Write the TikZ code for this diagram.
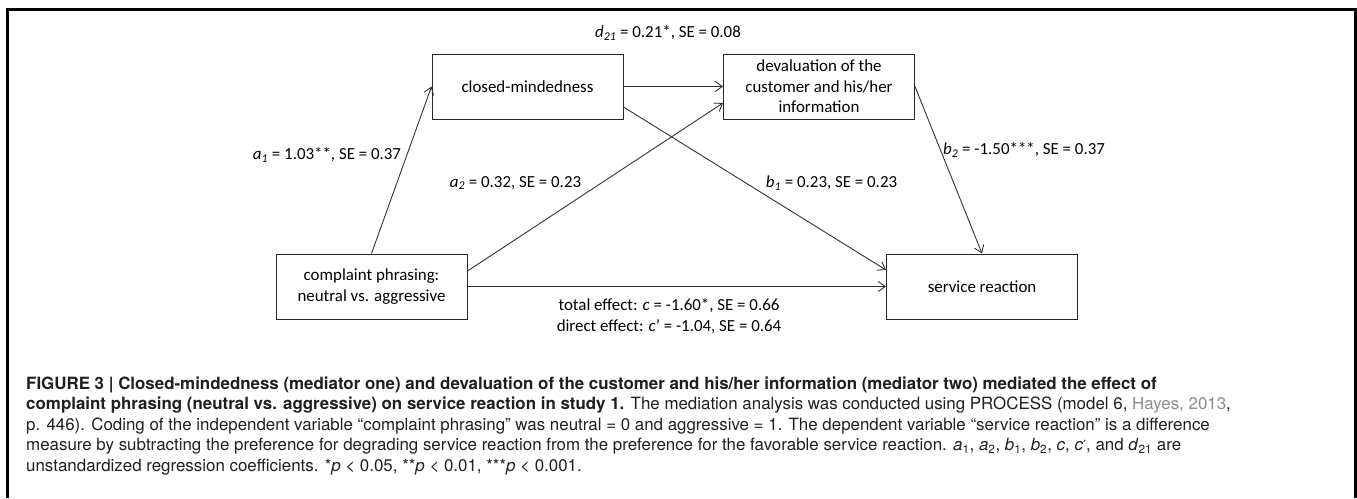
\documentclass[tikz,border=0pt]{standalone}
\usepackage{fontspec}
\setmainfont{Carlito}
\newfontfamily\capfont{TeX Gyre Heros}
\newfontfamily\primefont{DejaVu Sans}
\usetikzlibrary{arrows.meta,calc}
\definecolor{linkgray}{HTML}{8C8C8C}
\begin{document}
\begin{tikzpicture}[x=1pt,y=-1pt,
  box/.style={draw=black!85, line width=1pt, minimum width=191pt, minimum height=65pt,
    align=center, inner sep=0pt, font=\fontsize{16.9}{20.5}\selectfont},
  conn/.style={draw=black!80, line width=0.9pt, -{Straight Barb[length=7pt,width=10pt]}},
  lab/.style={font=\fontsize{16.9}{20.5}\selectfont, inner sep=0pt, align=center},
  captext/.style={anchor=base west, inner sep=0pt, font=\capfont\fontsize{16.9}{20}\selectfont, text=black!88},
]
\useasboundingbox (0,0) rectangle (1357,498);
\draw[line width=3pt] (7.7,498) -- (7.7,9) -- (1355.5,9) -- (1355.5,498);

% boxes
\node[box] (cm) at (527.5,86.5) {closed-mindedness};
\node[box] (dv) at (819,86.5) {devaluation of the\\customer and his/her\\information};
\node[box] (cp) at (371.5,286.5) {complaint phrasing:\\neutral vs. aggressive};
\node[box] (sr) at (982,286.5) {service reaction};

% connectors
\draw[conn] (cp.north) -- (cm.west);
\draw[conn] ([yshift=15.5pt]cp.east) -- ([yshift=-16.5pt]dv.west);
\draw[conn] (cm.east) -- (cm.east -| dv.west);
\draw[conn] ([yshift=-20.5pt]cm.east) -- ([yshift=16.5pt]sr.west);
\draw[conn] (dv.east) -- (sr.north);
\draw[conn] (cp.east) -- (cp.east -| sr.west);

% labels
\node[lab] (ld) at (668,33) {\textit{d\textsubscript{21}} = 0.21*, SE = 0.08};
\node[lab] (la1) at (327,155) {\textit{a\textsubscript{1}} = 1.03**, SE = 0.37};
\node[lab] (la2) at (515.5,183) {\textit{a\textsubscript{2}} = 0.32, SE = 0.23};
\node[lab] (lb1) at (831.5,183) {\textit{b\textsubscript{1}} = 0.23, SE = 0.23};
\node[lab, anchor=west] (lb2) at (943,150) {\textit{b\textsubscript{2}} = -1.50***, SE = 0.37};
\node[lab] (lc) at (669,316) {total effect: \textit{c} = -1.60*, SE = 0.66\\direct effect: \textit{c}’ = -1.04, SE = 0.64};

% caption
\node[captext] (cap1) at (26,389) {\bfseries FIGURE 3 | Closed-mindedness (mediator one) and devaluation of the customer and his/her information (mediator two) mediated the effect of};
\node[captext] (cap2) at (26,409.5) {\textbf{complaint phrasing (neutral vs. aggressive) on service reaction in study 1.} The mediation analysis was conducted using PROCESS (model 6, \textcolor{linkgray}{Hayes, 2013},};
\node[captext] (cap3) at (26,430) {p. 446). Coding of the independent variable “complaint phrasing” was neutral = 0 and aggressive = 1. The dependent variable “service reaction” is a difference};
\node[captext] (cap4) at (26,450.5) {measure by subtracting the preference for degrading service reaction from the preference for the favorable service reaction. \textit{a}\textsubscript{1}, \textit{a}\textsubscript{2}, \textit{b}\textsubscript{1}, \textit{b}\textsubscript{2}, \textit{c}, \textit{c}{\primefont\fontsize{14}{14}\selectfont ′}, and \textit{d}\textsubscript{21} are};
\node[captext] (cap5) at (26,471) {unstandardized regression coefficients. *\textit{p} < 0.05, **\textit{p} < 0.01, ***\textit{p} < 0.001.};
\end{tikzpicture}
\end{document}
